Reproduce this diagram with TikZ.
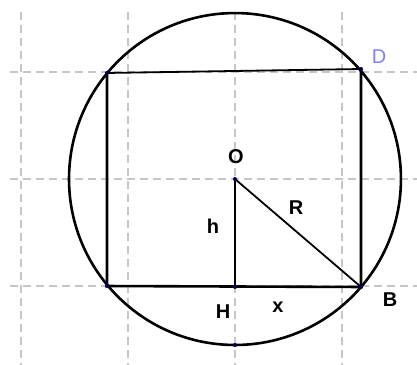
\documentclass[tikz,border=0pt]{standalone}
\usepackage{fontspec}
\setmainfont{Liberation Sans}
\usetikzlibrary{positioning}

\begin{document}
\begin{tikzpicture}[
    x=107pt,y=107pt,
    gridline/.style={draw=gray!45,line width=1.3pt,dash pattern=on 8pt off 5pt},
    dot/.style={circle,fill=blue!40!black,inner sep=0pt,minimum size=4pt},
    lbl/.style={font=\fontsize{20}{24}\selectfont\bfseries,inner sep=0pt},
]
    \useasboundingbox (-2.196,-1.738) rectangle (1.701,1.673);
    \foreach \x in {-2,...,1}{%
        \draw[gridline] (\x,1.56) -- (\x,-1.738);
    }
    \foreach \y in {-1,0,1}{%
        \draw[gridline] (-2.1,\y) -- (1.701,\y);
    }

    \coordinate (O) at (0,0);
    \coordinate (A) at (-1.196,0.991);
    \coordinate (D) at (1.178,1.028);
    \coordinate (B) at (1.178,-1.009);
    \coordinate (C) at (-1.196,-1.0);
    \coordinate (H) at (0,-1.009);
    \coordinate (S) at (0,-1.551);

    \draw[line width=2.6pt] (O) circle (1.551);
    \draw[line width=2.6pt] (A) -- (C) -- (B) -- (D);
    \draw[line width=1.8pt] (A) -- (D);
    \draw[line width=1.8pt] (O) -- (H);
    \draw[line width=1.8pt] (O) -- (B);

    \foreach \p in {O,A,D,B,C,H,S}{%
        \node[dot] at (\p) {};
    }

    \node[lbl] (labO) at (0.009,0.206) {O};
    \node[lbl] (labR) at (0.570,-0.271) {R};
    \node[lbl] (labh) at (-0.206,-0.439) {h};
    \node[lbl] (labH) at (-0.112,-1.243) {H};
    \node[lbl] (labx) at (0.402,-1.196) {x};
    \node[lbl] (labB) at (1.449,-1.131) {B};
    \node[lbl,font=\fontsize{20}{24}\selectfont,text={rgb,255:red,127;green,127;blue,255}] (labD) at (1.346,1.140) {D};
\end{tikzpicture}
\end{document}
